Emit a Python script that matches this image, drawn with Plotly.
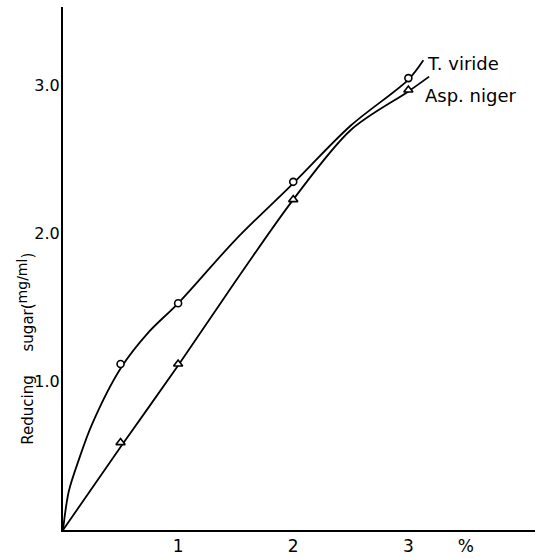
import plotly.graph_objects as go

# Measured data points (substrate %, reducing sugar mg/ml)
conc = [0.5, 1, 2, 3]
t_viride = [1.12, 1.53, 2.35, 3.05]
asp_niger = [0.59, 1.12, 2.23, 2.97]

# Hand-drawn fitted curves
t_curve_x = [0, 0.05, 0.14, 0.25, 0.5, 0.75, 1, 1.5, 2, 2.5, 3, 3.13]
t_curve_y = [0, 0.26, 0.48, 0.71, 1.09, 1.34, 1.53, 1.96, 2.34, 2.73, 3.04, 3.17]
a_curve_x = [0, 0.5, 1, 1.5, 2, 2.5, 3, 3.18]
a_curve_y = [0, 0.56, 1.11, 1.68, 2.23, 2.70, 2.96, 3.06]

x_ticks = [1, 2, 3]
y_ticks = [1, 2, 3]
y_tick_text = ["1.0", "2.0", "3.0"]

FONT = "DejaVu Sans"
fig = go.Figure()

fig.add_trace(go.Scatter(x=t_curve_x, y=t_curve_y, mode="lines",
                         line=dict(color="black", width=1.8, shape="spline", smoothing=0.9),
                         showlegend=False, hoverinfo="skip"))
fig.add_trace(go.Scatter(x=a_curve_x, y=a_curve_y, mode="lines",
                         line=dict(color="black", width=1.8, shape="spline", smoothing=0.9),
                         showlegend=False, hoverinfo="skip"))
fig.add_trace(go.Scatter(x=conc, y=t_viride, mode="markers", name="T. viride",
                         marker=dict(symbol="circle", size=7, color="white",
                                     line=dict(color="black", width=1.6)),
                         showlegend=False))
fig.add_trace(go.Scatter(x=conc, y=asp_niger, mode="markers", name="Asp. niger",
                         marker=dict(symbol="triangle-up", size=8, color="white",
                                     line=dict(color="black", width=1.6)),
                         showlegend=False))

fig.add_annotation(x=t_curve_x[-1], y=t_curve_y[-1], text="T. viride", showarrow=False,
                   xanchor="left", yanchor="middle", xshift=2, yshift=-3,
                   font=dict(family=FONT, size=18, color="black"))
fig.add_annotation(x=a_curve_x[-1], y=a_curve_y[-1], text="Asp. niger", showarrow=False,
                   xanchor="left", yanchor="middle", xshift=-6, yshift=-19,
                   font=dict(family=FONT, size=18, color="black"))

# Y-axis title placed as a rotated annotation to match the original position
fig.add_annotation(xref="paper", yref="paper", x=-0.05, y=0.159,
                   text="Reducing&nbsp;&nbsp;&nbsp;&nbsp;&nbsp;sugar(<sup><span style='font-size:14px'>mg/ml</span></sup>)",
                   textangle=-90, showarrow=False, xanchor="right", yanchor="bottom",
                   font=dict(family=FONT, size=15, color="black"))

fig.update_layout(
    width=535, height=559,
    margin=dict(l=63, r=0, t=7, b=29),
    paper_bgcolor="white", plot_bgcolor="white",
    font=dict(family=FONT, size=17, color="black"),
    xaxis=dict(range=[0, 4.1], showgrid=False, zeroline=False, showline=True,
               linecolor="black", linewidth=2,
               tickvals=x_ticks + [3.5], ticktext=[str(v) for v in x_ticks] + ["%"],
               ticks="", tickfont=dict(size=17)),
    yaxis=dict(range=[0, 3.53], showgrid=False, zeroline=False, showline=True,
               linecolor="black", linewidth=2,
               tickvals=y_ticks, ticktext=y_tick_text, ticks="",
               ticklabelstandoff=-2,
               tickfont=dict(size=16)),
)

fig.write_html("out.html")
